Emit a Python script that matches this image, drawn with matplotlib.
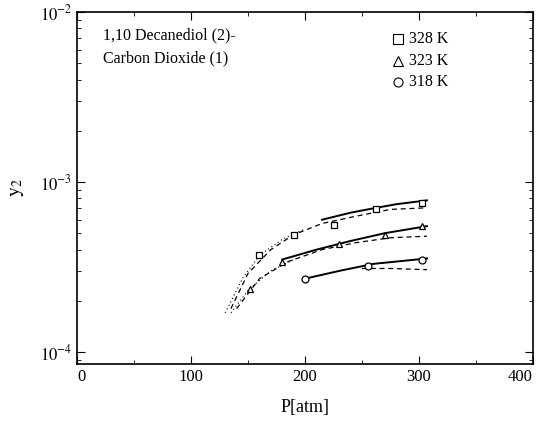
import matplotlib
matplotlib.use("Agg")
import matplotlib.pyplot as plt
from matplotlib.ticker import FixedLocator, LogLocator, NullFormatter

plt.rcParams['font.family'] = ['Liberation Serif', 'DejaVu Serif']
plt.rcParams['mathtext.fontset'] = 'stix'

# experimental points (P in atm, y2 mole fraction)
p_328 = [160, 190, 225, 262, 303]
y_328 = [3.7e-4, 4.9e-4, 5.6e-4, 6.9e-4, 7.5e-4]
p_323 = [152, 180, 230, 270, 303]
y_323 = [2.35e-4, 3.4e-4, 4.3e-4, 4.9e-4, 5.5e-4]
p_318 = [200, 255, 303]
y_318 = [2.7e-4, 3.2e-4, 3.5e-4]

# model curves
solid_p_328 = [215, 240, 260, 280, 307]
solid_y_328 = [6.0e-4, 6.6e-4, 7.0e-4, 7.4e-4, 7.8e-4]
dash_p_328 = [135, 150, 170, 190, 215, 245, 275, 307]
dash_y_328 = [1.8e-4, 2.9e-4, 4.0e-4, 4.9e-4, 5.7e-4, 6.3e-4, 6.9e-4, 7.05e-4]
dot_p_328 = [130, 145, 160, 180, 200]
dot_y_328 = [1.7e-4, 2.7e-4, 3.7e-4, 4.6e-4, 5.3e-4]

solid_p_323 = [180, 210, 240, 270, 307]
solid_y_323 = [3.5e-4, 4.0e-4, 4.5e-4, 5.0e-4, 5.5e-4]
dash_p_323 = [140, 160, 185, 215, 245, 275, 307]
dash_y_323 = [1.8e-4, 2.7e-4, 3.4e-4, 4.0e-4, 4.4e-4, 4.7e-4, 4.8e-4]
dot_p_323 = [135, 150, 170, 190]
dot_y_323 = [1.7e-4, 2.3e-4, 3.0e-4, 3.5e-4]

solid_p_318 = [200, 230, 260, 307]
solid_y_318 = [2.7e-4, 3.0e-4, 3.3e-4, 3.55e-4]
dash_p_318 = [250, 275, 307]
dash_y_318 = [3.1e-4, 3.1e-4, 3.05e-4]

x_ticks = [0, 100, 200, 300, 400]
x_labels = ['0', '100', '200', '300', '400']

fig = plt.figure(figsize=(5.36, 4.22), dpi=100)
ax = fig.add_axes([0.1437, 0.1374, 0.8507, 0.8342])

for p, y in [(solid_p_328, solid_y_328), (solid_p_323, solid_y_323), (solid_p_318, solid_y_318)]:
    ax.plot(p, y, color='black', lw=1.4)
for p, y in [(dash_p_328, dash_y_328), (dash_p_323, dash_y_323), (dash_p_318, dash_y_318)]:
    ax.plot(p, y, color='black', lw=0.9, ls=(0, (4, 3)))
for p, y in [(dot_p_328, dot_y_328), (dot_p_323, dot_y_323)]:
    ax.plot(p, y, color='black', lw=0.8, ls=(0, (1, 2.5)))

mk = dict(mfc='white', mec='black', mew=0.9, ms=5, ls='none')
ax.plot(p_328, y_328, marker='s', **mk)
ax.plot(p_323, y_323, marker='^', **mk)
ax.plot(p_318, y_318, marker='o', **mk)

ax.set_yscale('log')
ax.set_xlim(0, 400)
ax.set_ylim(8.5e-5, 1e-2)
ax.xaxis.set_major_locator(FixedLocator(x_ticks))
ax.xaxis.set_minor_locator(FixedLocator([50, 150, 250, 350]))
ax.set_xticklabels(x_labels)
ax.yaxis.set_major_locator(FixedLocator([1e-4, 1e-3, 1e-2]))
ax.yaxis.set_minor_locator(LogLocator(base=10, subs=range(2, 10)))
ax.yaxis.set_minor_formatter(NullFormatter())
ax.set_yticklabels([r'$10^{-4}$', r'$10^{-3}$', r'$10^{-2}$'])
ax.tick_params(which='both', direction='in', top=True, right=True, labelsize=12)
ax.tick_params(which='major', length=6)
ax.tick_params(which='minor', length=3)
xl = ax.get_xticklabels()
xl[0].set_ha('left')
xl[-1].set_ha('right')
for s in ax.spines.values():
    s.set_linewidth(1.2)

ax.set_xlabel('P[atm]', fontsize=13, labelpad=10)
ax.set_ylabel(r'$\mathrm{y}_2$', fontsize=14, labelpad=10)

ax.text(0.058, 0.955, '1,10 Decanediol (2)-\nCarbon Dioxide (1)', transform=ax.transAxes,
        fontsize=11.5, va='top', ha='left', linespacing=1.55)

leg_labels = ['328 K', '323 K', '318 K']
leg_markers = ['s', '^', 'o']
for i, (lab, m) in enumerate(zip(leg_labels, leg_markers)):
    yy = 0.922 - i * 0.061
    ax.plot([0.705], [yy], marker=m, transform=ax.transAxes, mfc='white', mec='black',
            mew=0.8, ms=6.5, ls='none', clip_on=False)
    ax.text(0.728, yy, lab, transform=ax.transAxes, fontsize=11.5, va='center', ha='left')

fig.savefig('out.png', dpi=100)
